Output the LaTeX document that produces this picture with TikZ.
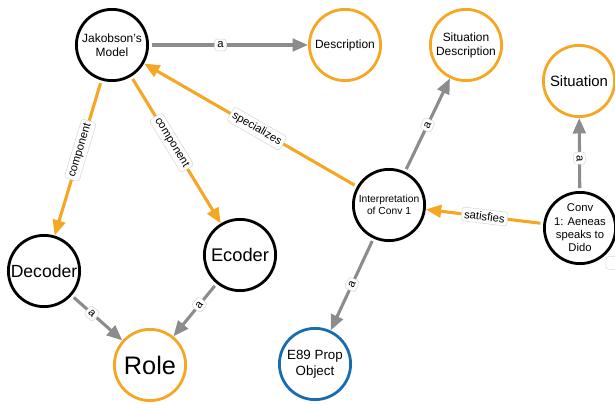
\documentclass[tikz,border=0pt]{standalone}
\usepackage{fontspec}
\setmainfont{Liberation Sans}
\usetikzlibrary{arrows.meta}
\usetikzlibrary{positioning}

\begin{document}
\begin{tikzpicture}[x = 0.025cm, y = -0.025cm,
  concept/.style = {circle, draw, line width = 2pt, minimum size = 1.78cm, inner sep = 0pt, align = center},
  rel/.style = {line width = 2.2pt, -{Triangle[length = 11pt, width = 9pt]}, shorten <= 2pt},
  tag/.style = {sloped, fill = white, draw = black!15, line width = 0.4pt, rounded corners = 2pt, inner sep = 2pt, text = black, font = \fontsize{8}{9}\selectfont}]
\definecolor{class}{RGB}{245,166,35}
\definecolor{prop}{RGB}{26,108,176}
\colorlet{isa}{black!45}

\useasboundingbox (0, 0) rectangle (615, 405);
\clip (0, 0) rectangle (615, 405);

% nodes
\node[concept, font = \fontsize{8.5}{10}\selectfont] (jakobson) at (112, 45) {Jakobson's\\Model};
\node[concept, draw = class, font = \fontsize{8.5}{10}\selectfont] (description) at (345, 45) {Description};
\node[concept, draw = class, font = \fontsize{8.5}{10}\selectfont] (sitdesc) at (466, 45) {Situation\\Description};
\node[concept, draw = class, font = \fontsize{10.6}{12}\selectfont] (situation) at (579, 81) {Situation};
\node[concept, font = \fontsize{7.3}{9}\selectfont] (interp) at (389, 205) {Interpretation\\of Conv 1};
\node[concept, font = \fontsize{8}{9.5}\selectfont] (conv) at (580, 228) {Conv\\1: Aeneas\\speaks to\\Dido};
\node[concept, font = \fontsize{12.5}{14}\selectfont] (decoder) at (44, 271) {Decoder};
\node[concept, font = \fontsize{13}{15}\selectfont] (ecoder) at (240, 255) {Ecoder};
\node[concept, draw = class, font = \fontsize{18}{20}\selectfont] (role) at (150, 365) {Role};
\node[concept, draw = prop, font = \fontsize{9.5}{11}\selectfont] (prop) at (315, 364) {E89 Prop\\Object};

% edges
\draw[rel, isa] (jakobson) -- node[tag, pos = 0.45] {a} (description);
\draw[rel, class] (jakobson) -- node[tag, pos = 0.45] {component} (decoder);
\draw[rel, class] (jakobson) -- node[tag, pos = 0.45] {component} (ecoder);
\draw[rel, class] (interp) -- node[tag, pos = 0.47] {specializes} (jakobson);
\draw[rel, isa] (interp) -- node[tag] {a} (sitdesc);
\draw[rel, isa] (interp) -- node[tag] {a} (prop);
\draw[rel, class] (conv) -- node[tag] {satisfies} (interp);
\draw[rel, isa] (conv) -- node[tag, pos = 0.45] {a} (situation);
\draw[rel, isa] (decoder) -- node[tag, pos = 0.4] {a} (role);
\draw[rel, isa] (ecoder) -- node[tag, pos = 0.4] {a} (role);

% label cut off at the right border
\node[tag, sloped = false, minimum width = 20pt, minimum height = 9pt] (cut) at (620, 263) {};
\end{tikzpicture}
\end{document}
